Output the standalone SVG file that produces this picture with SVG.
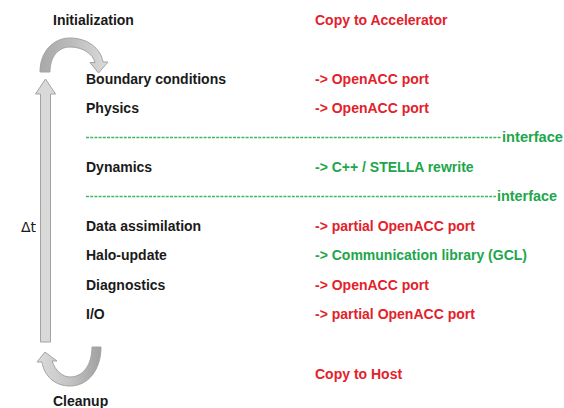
<svg xmlns="http://www.w3.org/2000/svg" width="564" height="408" viewBox="0 0 564 408">
<defs>
<style>
text{font-family:"Liberation Sans",Arial,sans-serif;font-weight:bold;font-size:14px}
.k{fill:#1a1a1a}
.r{fill:#e3212b}
.g{fill:#20a64b}
.d{stroke:#3cb864;stroke-width:1.3;stroke-dasharray:3 1.2}
.arr{stroke:#a3a3a3;stroke-width:1}
</style>
<linearGradient id="gt" x1="0" y1="0" x2="1" y2="0">
<stop offset="0" stop-color="#a8a8a8"/>
<stop offset="0.5" stop-color="#bdbdbd"/>
<stop offset="1" stop-color="#dcdcdc"/>
</linearGradient>
<linearGradient id="gb" x1="0" y1="0" x2="1" y2="0">
<stop offset="0" stop-color="#dcdcdc"/>
<stop offset="0.5" stop-color="#c4c4c4"/>
<stop offset="1" stop-color="#a0a0a0"/>
</linearGradient>
</defs>
<g id="loop-arrows">
<path class="arr" fill="#d9d9d9" d="M45.5,79 L55.5,94 L50.5,94 L50.5,342 L40.5,342 L40.5,94 L35.5,94 Z"/>
<path class="arr" fill="url(#gt)" d="M40,72 C40,52 53,38 70,38 C88,38 101,49 103,62 L108,62 L98.5,73 L90,62.5 L95,62.5 C93,54 83,47 70,47 C58,47 50,57 50,72 Z"/>
<path class="arr" fill="url(#gb)" d="M101,347 C101,370 88,386 70,386 C55,386 44,376 42,362 L37,362 L45,352 L57,361 L52,361 C55,370 62,377 70,377 C83,377 92,365 92,347 Z"/>
</g>
<g id="connectors">
<line class="d" x1="86" y1="137.5" x2="501" y2="137.5"/>
<line class="d" x1="86" y1="196.5" x2="496" y2="196.5"/>
</g>
<g id="n-init"><text class="k" x="53" y="25">Initialization</text></g>
<g id="n-copyacc"><text class="r" x="315" y="25">Copy to Accelerator</text></g>
<g id="n-bc"><text class="k" x="86" y="84">Boundary conditions</text><text class="r" x="315" y="84">-&gt; OpenACC port</text></g>
<g id="n-phys"><text class="k" x="86" y="113">Physics</text><text class="r" x="315" y="113">-&gt; OpenACC port</text></g>
<g id="n-if1"><text class="g" x="502" y="142" textLength="61" lengthAdjust="spacingAndGlyphs">interface</text></g>
<g id="n-dyn"><text class="k" x="86" y="172">Dynamics</text><text class="g" x="315" y="172">-&gt; C++ / STELLA rewrite</text></g>
<g id="n-if2"><text class="g" x="497" y="201" textLength="60" lengthAdjust="spacingAndGlyphs">interface</text></g>
<g id="n-dt"><text class="k" x="21" y="232" style="font-weight:normal;font-family:'DejaVu Sans',sans-serif;font-size:14px">Δt</text></g>
<g id="n-da"><text class="k" x="86" y="231">Data assimilation</text><text class="r" x="315" y="231">-&gt; partial OpenACC port</text></g>
<g id="n-halo"><text class="k" x="86" y="260">Halo-update</text><text class="g" x="315" y="260">-&gt; Communication library (GCL)</text></g>
<g id="n-diag"><text class="k" x="86" y="290">Diagnostics</text><text class="r" x="315" y="290">-&gt; OpenACC port</text></g>
<g id="n-io"><text class="k" x="86" y="319">I/O</text><text class="r" x="315" y="319">-&gt; partial OpenACC port</text></g>
<g id="n-copyhost"><text class="r" x="315" y="379">Copy to Host</text></g>
<g id="n-cleanup"><text class="k" x="53" y="406">Cleanup</text></g>
</svg>
